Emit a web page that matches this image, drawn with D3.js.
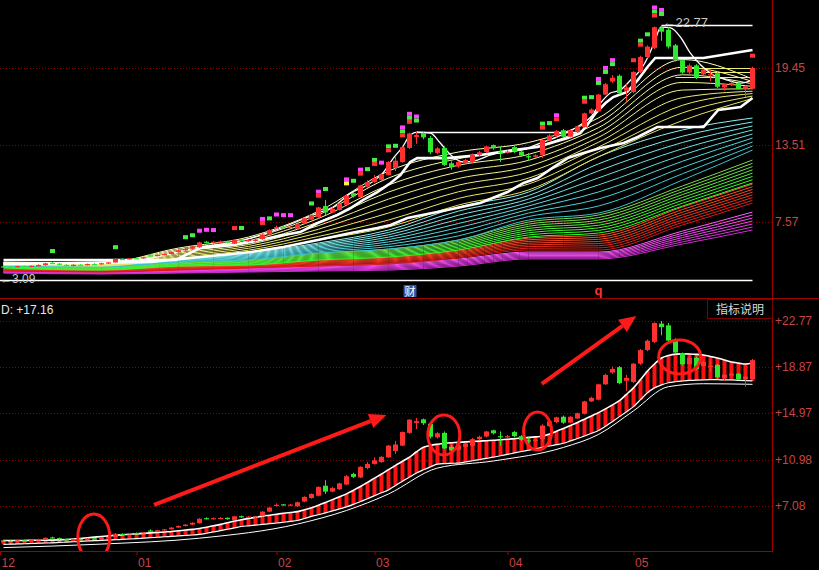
<!DOCTYPE html>
<html><head><meta charset="utf-8">
<script src="https://cdn.jsdelivr.net/npm/d3@7/dist/d3.min.js"></script>
<style>
html,body{margin:0;padding:0;background:#000;overflow:hidden}
svg{display:block}
text{font-family:"Liberation Sans",Arial,sans-serif}
</style></head>
<body><svg id="chart" width="819" height="570"></svg>
<script>
// ---------------- DATA ----------------
const open = [4.15,4.12,4.10,4.17,4.14,4.19,4.25,4.42,4.36,4.26,4.22,4.27,4.24,4.33,4.30,4.39,4.45,4.72,4.70,4.78,
4.76,5.00,4.96,5.03,5.10,5.25,5.38,5.50,5.62,6.05,5.98,6.04,6.08,5.90,6.22,6.10,6.12,6.25,6.60,7.10,
7.22,7.18,7.05,7.45,7.75,7.95,8.80,8.30,8.50,8.90,9.80,9.50,10.30,10.65,10.80,11.20,11.75,12.20,13.28,14.13,
14.43,14.05,12.90,13.28,12.10,11.85,12.10,12.20,12.75,12.97,13.50,13.00,12.95,13.35,13.00,12.65,12.60,12.75,13.85,14.20,
14.65,14.15,14.50,14.90,15.95,16.10,17.40,18.40,18.85,17.70,17.60,19.15,20.30,21.00,22.55,22.40,21.20,20.05,19.10,19.65,
18.95,18.90,19.05,17.95,18.15,18.30,17.85,17.85];
const high = [4.22,4.18,4.20,4.23,4.21,4.30,4.42,4.48,4.40,4.32,4.30,4.33,4.36,4.40,4.42,4.48,4.78,4.76,4.80,4.84,
4.88,5.10,5.06,5.12,5.28,5.42,5.55,5.70,6.05,6.12,6.10,6.14,6.12,6.25,6.26,6.22,6.25,6.65,7.00,7.30,
7.25,7.25,7.45,7.90,8.15,8.75,9.27,8.70,9.05,9.70,9.90,10.45,10.80,11.20,11.30,12.25,12.60,13.40,14.45,14.55,
14.50,14.20,13.35,13.40,12.25,12.30,12.45,12.85,13.05,13.45,13.55,13.40,13.10,13.45,13.10,12.90,12.80,14.00,14.35,14.65,
14.75,14.70,15.00,16.00,16.35,17.45,18.30,18.90,18.95,18.20,19.20,20.40,21.20,22.65,22.77,22.60,21.30,20.10,19.80,19.75,
19.40,19.35,19.15,18.25,18.40,18.35,18.10,19.55];
const low = [4.08,4.05,4.06,4.10,4.08,4.14,4.20,4.32,4.22,4.18,4.16,4.20,4.22,4.27,4.28,4.33,4.43,4.64,4.66,4.72,
4.74,4.92,4.92,5.00,5.08,5.22,5.35,5.46,5.58,5.94,5.94,5.96,5.92,5.86,6.08,6.06,6.05,6.20,6.55,7.05,
7.12,7.12,7.00,7.40,7.70,7.90,8.10,8.25,8.45,8.85,9.45,9.45,10.20,10.60,10.75,11.15,11.50,12.15,13.20,13.60,
13.95,12.80,12.80,11.90,11.60,11.75,12.00,12.10,12.65,12.90,13.15,12.20,12.85,12.90,12.60,12.30,12.50,12.50,13.80,14.10,
14.05,14.10,14.45,14.85,15.90,16.05,17.35,18.30,17.40,16.85,17.50,19.05,20.20,20.90,21.55,20.95,19.95,19.00,19.00,18.60,
18.90,18.45,17.90,17.70,18.05,17.80,17.20,17.80];
const close = [4.12,4.10,4.17,4.14,4.19,4.25,4.38,4.36,4.26,4.22,4.27,4.24,4.33,4.30,4.39,4.45,4.72,4.70,4.77,4.76,
4.85,4.96,5.03,5.10,5.25,5.38,5.50,5.66,6.00,5.98,6.05,6.07,5.96,6.20,6.12,6.18,6.20,6.60,6.95,7.18,
7.18,7.20,7.40,7.85,8.10,8.70,8.30,8.60,9.00,9.60,9.55,10.40,10.65,10.95,11.25,12.20,12.30,13.35,14.40,14.28,
14.10,12.95,13.25,11.97,11.80,12.20,12.35,12.75,12.95,13.40,13.25,12.92,13.00,13.00,12.70,12.55,12.72,13.90,14.25,14.60,
14.15,14.65,14.95,15.95,16.25,17.40,18.20,18.70,17.50,17.95,19.15,20.30,21.10,22.60,22.25,21.10,20.10,19.10,19.65,18.70,
19.30,18.97,18.00,18.20,18.30,17.85,18.05,19.45];

const monthTickIdx = [-0.5, 19, 39, 53, 72, 90];
const monthLabels = ["12", "01", "02", "03", "04", "05"];
const topAxisTicks = [19.45, 13.51, 7.57];
const botAxisTicks = [22.77, 18.87, 14.97, 10.98, 7.08];

// moving-average ribbon, read as band edges at sample bars
const ribbonIdx = [0, 14, 25, 35, 45, 55, 65, 75, 85, 97, 107];
const yellowTop = [4.48, 4.40, 5.56, 6.41, 8.40, 11.50, 12.97, 13.70, 15.60, 20.10, 18.60];
const yellowBot = [4.25, 4.17, 4.79, 5.25, 6.18, 7.18, 8.88, 10.04, 12.60, 15.40, 17.10];
const cyanTop   = [4.25, 4.17, 4.79, 5.18, 5.95, 6.95, 8.73, 9.88, 12.60, 14.67, 15.59];
const cyanBot   = [4.17, 4.10, 4.48, 4.64, 5.18, 5.48, 6.18, 7.72, 8.26, 10.81, 13.12];
const greenTop  = [4.17, 4.10, 4.48, 4.64, 5.18, 5.48, 6.18, 7.57, 8.11, 10.35, 12.35];
const greenBot  = [4.02, 3.86, 4.17, 4.25, 4.64, 4.87, 5.41, 6.41, 6.72, 8.80, 10.58];
const redTop    = [3.94, 3.86, 4.17, 4.25, 4.64, 4.87, 5.41, 6.33, 6.56, 8.73, 10.50];
const redBot    = [3.79, 3.71, 3.86, 4.02, 4.17, 4.33, 4.79, 5.41, 5.41, 7.34, 9.03];
const magTop    = [3.79, 3.71, 3.86, 4.02, 4.17, 4.33, 4.71, 5.25, 5.25, 6.87, 8.34];
const magBot    = [3.63, 3.56, 3.63, 3.71, 3.79, 3.86, 4.17, 4.72, 4.72, 5.87, 6.95];

// white indicator lines (vertices)
const thickAIdx = [0,24.6,26,28.1,32.9,35.3,40,42.4,44.9,47.7,49.6,51.4,53.4,55.3,56.7,58.1,59.1,63.4,68.1,72.9,76.3,80.6,82.4,83.4,84.6,86,87.1,89.1,90.6,92,93.1,100,107];
const thickAVal = [4.64,4.64,5.02,5.56,5.79,6.02,6.56,6.79,7.49,8.11,8.65,9.27,9.88,10.58,11.19,12.20,12.50,12.50,12.74,13.12,13.35,14.05,14.43,15.05,15.98,16.75,17.21,17.60,18.52,19.53,20.22,20.22,20.84];
const thickBIdx = [0,21,28.1,35.3,40,44.9,49.6,53.4,55.3,57.7,63.4,68.1,72,74.3,76.3,78.6,80.6,82.4,85.3,88.6,90.6,93.4,100,102.1,105.3,107];
const thickBVal = [4.33,4.48,4.87,5.25,5.64,6.18,6.72,7.10,7.34,7.88,8.49,9.03,9.88,10.58,10.96,11.81,12.50,12.81,13.28,13.66,14.13,14.90,14.90,16.21,16.44,17.14];
const thinIdx = [0,13.9,21,28.1,32.4,35.3,38.1,44.9,47.1,49.6,52,54.3,55.7,57,58.1,59.1,61,62.4,63.9,65.7,67.7,69.6,71,73.9,76.7,79.1,82.4,83.9,85.3,86.7,88.1,89.6,91,92,93.1,93.9,95.3,96.7,98.1,99.6,101.4,103.4,105.3,107];
const thinVal = [4.40,4.48,4.79,5.64,5.95,6.33,6.80,8.26,8.73,9.80,10.42,11.42,12.50,13.35,14.28,14.51,14.43,13.66,12.74,12.20,12.35,12.74,12.97,13.12,13.66,14.13,15.05,15.67,16.75,17.52,17.75,18.52,19.30,20.22,21.61,22.61,22.54,21.84,20.61,19.68,18.91,18.52,18.29,18.52];

// horizontal reference levels
const levelPrice = [22.77, 14.55, 3.09];
const levelFrom  = [94, 59, -0.5];
const levelTo    = [107, 82, 107];
const yLevelPrice = [19.45, 19.14, 18.75];
const yLevelFrom  = [98, 99, 96];
const yLevelTo    = [107, 107, 107];

// signal squares above bars (m=magenta g=green r=red y=yellow, top to bottom)
const markerIdx  = [7,16,26,27,28,29,30,33,34,37,38,39,40,41,44,45,46,49,50,51,52,53,54,55,56,57,58,59,77,78,79,83,84,85,86,87,90,91,92,93,94,107];
const markerKind = ["g","g","g","g","m","m","m","r","g","mr","g","m","m","m","g","mr","g","my","g","mr","g","gr","m","gr","g","mgr","mgr","mg","gr","g","mr","gr","g","mg","mg","mg","r","gr","g","mgr","mg","r"];

const eventIdx = [58, 85];
const eventLabel = ["财", "q"];

// lower panel channel
const bandUpper = [4.16,4.16,4.16,4.16,4.17,4.17,4.18,4.19,4.21,4.24,
4.28,4.33,4.38,4.44,4.50,4.55,4.60,4.64,4.68,4.72,
4.76,4.80,4.84,4.88,4.92,4.98,5.04,5.10,5.17,5.28,
5.40,5.52,5.66,5.80,5.92,6.02,6.12,6.22,6.30,6.38,
6.46,6.53,6.60,6.76,6.94,7.15,7.38,7.62,7.86,8.11,
8.42,8.74,9.08,9.44,9.79,10.16,10.52,10.88,11.22,11.68,
12.06,12.22,12.32,12.40,12.45,12.48,12.52,12.55,12.58,12.62,
12.65,12.70,12.74,12.79,12.84,12.90,12.94,12.99,13.18,13.42,
13.66,13.90,14.16,14.44,14.72,15.00,15.32,15.66,16.01,16.55,
17.10,17.80,18.53,19.12,19.63,19.85,19.96,19.98,19.97,19.94,
19.88,19.76,19.63,19.46,19.29,19.20,19.12,19.21];
const bandLower = [3.83,3.84,3.86,3.88,3.90,3.92,3.94,3.96,3.99,4.02,
4.05,4.08,4.11,4.14,4.16,4.19,4.22,4.25,4.28,4.31,
4.35,4.39,4.43,4.47,4.50,4.54,4.58,4.62,4.67,4.77,
4.88,4.99,5.11,5.22,5.34,5.40,5.46,5.52,5.58,5.64,
5.70,5.77,5.85,6.02,6.20,6.34,6.50,6.66,6.83,7.00,
7.22,7.46,7.70,7.96,8.20,8.45,8.82,9.18,9.54,9.88,
10.15,10.40,10.63,10.68,10.70,10.72,10.82,10.92,11.02,11.12,
11.22,11.34,11.46,11.58,11.70,11.81,11.93,12.05,12.17,12.28,
12.40,12.60,12.80,13.02,13.25,13.49,13.85,14.25,14.66,15.08,
15.51,16.10,16.69,17.10,17.35,17.53,17.62,17.68,17.73,17.76,
17.78,17.79,17.79,17.78,17.78,17.74,17.71,17.69];
const band2Idx = [0,14,28,42,49,55,62,70,80,85,90,95,100,107];
const band2Val = [3.55,3.85,4.35,5.55,6.70,8.10,10.30,10.90,12.05,13.15,15.15,17.20,17.45,17.40];

// annotations (in bar index / lower-panel price units)
const arrowFromIdx = [21.5, 76.9], arrowFromVal = [7.17, 17.43];
const arrowToIdx   = [54.7, 90.4], arrowToVal   = [14.80, 23.20];
const circleIdx = [12.9, 62.9, 76.3, 96.6];
const circleVal = [4.45, 13.10, 13.44, 19.72];

const readout = "D: +17.16";
const helpLabel = "指标说明";

// ---------------- DRAW ----------------
const N = close.length;
const W = 819, H = 570, PR = 772; // plot right edge
const RED = "#ff3030", GREEN = "#2ee82e", AXRED = "#a00000", LBL = "#c84444";
const svg = d3.select("#chart");
svg.append("rect").attr("width", W).attr("height", H).attr("fill", "#000");

const x = d3.scaleLinear().domain([0, 107]).range([3.5, 752.5]);
const yT = d3.scaleLinear().domain([7.57, 19.45]).range([222, 68]);
const yB = d3.scaleLinear().domain([7.08, 22.77]).range([506, 321]);

const defs = svg.append("defs");
defs.append("clipPath").attr("id", "cpT").append("rect").attr("x", 0).attr("y", 0).attr("width", PR).attr("height", 298);
defs.append("clipPath").attr("id", "cpB").append("rect").attr("x", 0).attr("y", 299).attr("width", PR).attr("height", 252);

// grids
function grid(scale, ticks) {
  const g = svg.append("g").call(d3.axisLeft(scale).tickValues(ticks).tickSize(-PR).tickFormat(""));
  g.select(".domain").remove();
  g.selectAll("line").attr("stroke", "#8a0000").attr("stroke-dasharray", "1,2").attr("shape-rendering", "crispEdges");
}
grid(yT, topAxisTicks);
grid(yB, botAxisTicks);

const gT = svg.append("g").attr("clip-path", "url(#cpT)");
const gB = svg.append("g").attr("clip-path", "url(#cpB)");

// ribbon
const groups = [
  {top: magTop, bot: magBot, n: 7, c0: "#ff5cff", c1: "#d02ad0"},
  {top: redTop, bot: redBot, n: 8, c0: "#ff5a28", c1: "#d81818"},
  {top: greenTop, bot: greenBot, n: 8, c0: "#80d850", c1: "#2cff2c"},
  {top: cyanTop, bot: cyanBot, n: 9, c0: "#8cf2f2", c1: "#38c4cc"},
  {top: yellowTop, bot: yellowBot, n: 9, c0: "#ffffb8", c1: "#e4e45a"}
];
const lineT = d3.line().x(d => x(d[0])).y(d => yT(d[1])).curve(d3.curveMonotoneX);
groups.forEach(gr => {
  const col = d3.interpolateRgb(gr.c0, gr.c1);
  for (let k = 0; k < gr.n; k++) {
    const t = k / (gr.n - 1);
    const pts = ribbonIdx.map((ix, j) => [ix, gr.top[j] + (gr.bot[j] - gr.top[j]) * t]);
    gT.append("path").attr("d", lineT(pts)).attr("fill", "none").attr("stroke", col(t)).attr("stroke-width", 1);
  }
});

// yellow levels
yLevelPrice.forEach((p, k) => {
  gT.append("line").attr("x1", x(yLevelFrom[k])).attr("x2", x(yLevelTo[k]))
    .attr("y1", Math.round(yT(p)) + 0.5).attr("y2", Math.round(yT(p)) + 0.5)
    .attr("stroke", "#f0f070").attr("stroke-width", 1);
});
// white levels
levelPrice.forEach((p, k) => {
  gT.append("line").attr("x1", x(levelFrom[k])).attr("x2", x(levelTo[k]))
    .attr("y1", Math.round(yT(p)) + 0.5).attr("y2", Math.round(yT(p)) + 0.5)
    .attr("stroke", "#ffffff").attr("stroke-width", 1.5);
});

const lin = d3.line().x(d => x(d[0])).y(d => yT(d[1]));
gT.append("path").attr("d", lin(thickBIdx.map((v, k) => [v, thickBVal[k]]))).attr("fill", "none").attr("stroke", "#fff").attr("stroke-width", 2.6);
gT.append("path").attr("d", lin(thickAIdx.map((v, k) => [v, thickAVal[k]]))).attr("fill", "none").attr("stroke", "#fff").attr("stroke-width", 2.6);
gT.append("path").attr("d", lineT(thinIdx.map((v, k) => [v, thinVal[k]]))).attr("fill", "none").attr("stroke", "#fff").attr("stroke-width", 1.3);

function candles(g, y) {
  d3.range(N).forEach(i => {
    const up = close[i] >= open[i];
    const col = up ? RED : GREEN;
    const cx = x(i);
    g.append("line").attr("x1", cx).attr("x2", cx).attr("y1", y(high[i])).attr("y2", y(low[i])).attr("stroke", col).attr("stroke-width", 1);
    const y0 = y(Math.max(open[i], close[i])), y1 = y(Math.min(open[i], close[i]));
    g.append("rect").attr("x", cx - 2.5).attr("y", y0).attr("width", 5).attr("height", Math.max(1.2, y1 - y0)).attr("fill", col);
  });
}
candles(gT, yT);

// markers
const mCol = {m: "#ff44ff", g: "#44ee44", r: "#ff3333", y: "#ffee44"};
markerIdx.forEach((i, k) => {
  const chars = markerKind[k].split("");
  const bottom = yT(high[i]) - 9;
  chars.forEach((c, j) => {
    gT.append("rect").attr("x", x(i) - 2.5).attr("y", bottom - (chars.length - j) * 4)
      .attr("width", 5).attr("height", 4).attr("fill", mCol[c]);
  });
});

// level labels
svg.append("text").attr("x", x(levelFrom[0]) + 1).attr("y", yT(levelPrice[0]) + 2)
  .attr("fill", "#c8c8c8").attr("font-size", 13).text("←" + levelPrice[0].toFixed(2));
svg.append("text").attr("x", 0).attr("y", yT(levelPrice[2]) + 3)
  .attr("fill", "#c8c8c8").attr("font-size", 12).text("←" + levelPrice[2].toFixed(2));

// event icons on time line
eventIdx.forEach((i, k) => {
  const cx = x(i);
  if (k === 0) {
    svg.append("rect").attr("x", cx - 6).attr("y", 285).attr("width", 13).attr("height", 12).attr("fill", "#2a5aa8");
    svg.append("text").attr("x", cx + 0.5).attr("y", 295.5).attr("text-anchor", "middle").attr("fill", "#fff")
      .attr("font-size", 11).style("font-family", "'Noto Sans CJK SC',sans-serif").text(eventLabel[k]);
  } else {
    svg.append("text").attr("x", cx).attr("y", 295).attr("text-anchor", "middle").attr("fill", "#ff3030")
      .attr("font-size", 13).attr("font-weight", "bold").text(eventLabel[k]);
  }
});

// ---- lower panel ----
d3.range(N).forEach(i => {
  const a = yB(bandUpper[i]), b = yB(bandLower[i]);
  gB.append("rect").attr("x", x(i) - 2).attr("y", Math.min(a, b)).attr("width", 4).attr("height", Math.abs(b - a)).attr("fill", "#ff1010");
});
const linB = d3.line().x(d => x(d[0])).y(d => yB(d[1])).curve(d3.curveMonotoneX);
gB.append("path").attr("d", linB(band2Idx.map((v, k) => [v, band2Val[k]]))).attr("fill", "none").attr("stroke", "#fff").attr("stroke-width", 1);
gB.append("path").attr("d", linB(bandLower.map((v, i) => [i, v]))).attr("fill", "none").attr("stroke", "#fff").attr("stroke-width", 1.2);
gB.append("path").attr("d", linB(bandUpper.map((v, i) => [i, v]))).attr("fill", "none").attr("stroke", "#fff").attr("stroke-width", 1.6);
candles(gB, yB);

const annoR = [[16, 23], [16, 20], [14, 19], [21, 17]];
circleIdx.forEach((i, k) => {
  gB.append("ellipse").attr("cx", x(i)).attr("cy", yB(circleVal[k])).attr("rx", annoR[k][0]).attr("ry", annoR[k][1])
    .attr("fill", "none").attr("stroke", "#ff1a1a").attr("stroke-width", 3);
});
arrowFromIdx.forEach((i, k) => {
  const x0 = x(i), y0 = yB(arrowFromVal[k]), x1 = x(arrowToIdx[k]), y1 = yB(arrowToVal[k]);
  const ang = Math.atan2(y1 - y0, x1 - x0), L = 17, Wd = 7.5;
  const bx = x1 - L * Math.cos(ang), by = y1 - L * Math.sin(ang);
  gB.append("line").attr("x1", x0).attr("y1", y0).attr("x2", bx).attr("y2", by).attr("stroke", "#ff1a1a").attr("stroke-width", 4);
  gB.append("path").attr("d", `M${x1},${y1}L${bx + Wd * Math.sin(ang)},${by - Wd * Math.cos(ang)}L${bx - Wd * Math.sin(ang)},${by + Wd * Math.cos(ang)}Z`).attr("fill", "#ff1a1a");
});

// frame lines
svg.append("line").attr("x1", 0).attr("x2", W).attr("y1", 298.5).attr("y2", 298.5).attr("stroke", AXRED);
svg.append("line").attr("x1", 0).attr("x2", PR + 0.5).attr("y1", 551.5).attr("y2", 551.5).attr("stroke", AXRED);
svg.append("line").attr("x1", PR + 0.5).attr("x2", PR + 0.5).attr("y1", 0).attr("y2", 551.5).attr("stroke", AXRED);

// right axes
function rAxis(scale, ticks, fmt) {
  const g = svg.append("g").attr("transform", `translate(${PR},0)`)
    .call(d3.axisRight(scale).tickValues(ticks).tickSize(0).tickPadding(3).tickFormat(fmt));
  g.select(".domain").remove();
  g.selectAll("text").attr("fill", LBL).attr("font-size", 12).style("font-family", "'Liberation Sans',Arial,sans-serif");
}
rAxis(yT, topAxisTicks, d => d.toFixed(2));
rAxis(yB, botAxisTicks, d => "+" + d.toFixed(2));

// bottom month axis
const bx = svg.append("g").attr("transform", "translate(0,551)")
  .call(d3.axisBottom(x).tickValues(monthTickIdx).tickSize(4).tickPadding(3).tickFormat((d, i) => monthLabels[i]));
bx.select(".domain").remove();
bx.selectAll("line").attr("stroke", AXRED);
bx.selectAll("text").attr("fill", LBL).attr("font-size", 12).attr("text-anchor", "start").attr("dx", 1)
  .style("font-family", "'Liberation Sans',Arial,sans-serif");

// readout & help box
svg.append("text").attr("x", 1).attr("y", 314).attr("fill", "#e6e6e6").attr("font-size", 12).text(readout);
svg.append("rect").attr("x", 707.5).attr("y", 299.5).attr("width", 65).attr("height", 19).attr("fill", "#000").attr("stroke", "#800000");
svg.append("text").attr("x", 740).attr("y", 314).attr("text-anchor", "middle").attr("fill", "#d8d8d8").attr("font-size", 12)
  .style("font-family", "'Noto Sans CJK SC',sans-serif").text(helpLabel);
</script></body></html>
